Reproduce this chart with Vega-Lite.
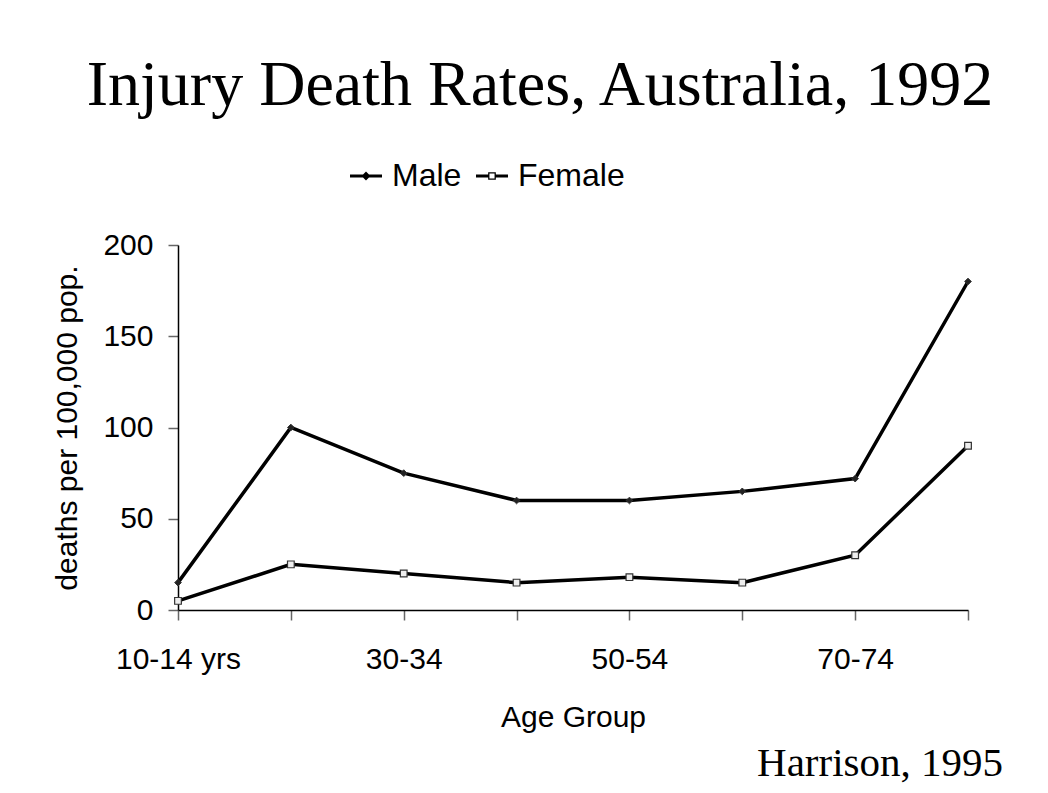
{
  "$schema": "https://vega.github.io/schema/vega-lite/v6.json",
  "width": 790,
  "height": 365,
  "autosize": {"type": "none"},
  "padding": {"left": 178, "top": 245, "right": 80, "bottom": 183},
  "background": "white",
  "title": {
    "text": "Injury Death Rates, Australia, 1992",
    "font": "Liberation Serif",
    "fontSize": 64,
    "fontWeight": "normal",
    "color": "black",
    "anchor": "middle",
    "baseline": "alphabetic",
    "dx": -33,
    "offset": -9
  },
  "config": {
    "view": {"stroke": null},
    "axis": {
      "labelFont": "Liberation Sans",
      "labelFontSize": 30,
      "labelColor": "black",
      "titleFont": "Liberation Sans",
      "titleFontSize": 30,
      "titleFontWeight": "normal",
      "titleColor": "black",
      "domainColor": "black",
      "domainWidth": 1.5,
      "tickColor": "#666666",
      "tickWidth": 1.5,
      "tickSize": 10,
      "grid": false
    }
  },
  "data": {
    "values": [
      {"age": "10-14 yrs", "sex": "Male", "rate": 15},
      {"age": "20-24", "sex": "Male", "rate": 100},
      {"age": "30-34", "sex": "Male", "rate": 75},
      {"age": "40-44", "sex": "Male", "rate": 60},
      {"age": "50-54", "sex": "Male", "rate": 60},
      {"age": "60-64", "sex": "Male", "rate": 65},
      {"age": "70-74", "sex": "Male", "rate": 72},
      {"age": "80-84", "sex": "Male", "rate": 180},
      {"age": "10-14 yrs", "sex": "Female", "rate": 5},
      {"age": "20-24", "sex": "Female", "rate": 25},
      {"age": "30-34", "sex": "Female", "rate": 20},
      {"age": "40-44", "sex": "Female", "rate": 15},
      {"age": "50-54", "sex": "Female", "rate": 18},
      {"age": "60-64", "sex": "Female", "rate": 15},
      {"age": "70-74", "sex": "Female", "rate": 30},
      {"age": "80-84", "sex": "Female", "rate": 90}
    ]
  },
  "layer": [
    {
      "mark": {"type": "line", "strokeWidth": 3.5},
      "encoding": {
        "x": {
          "field": "age",
          "type": "ordinal",
          "sort": null,
          "scale": {"type": "point", "padding": 0},
          "axis": {
            "title": "Age Group",
            "labelAngle": 0,
            "labelPadding": 24,
            "titlePadding": 28,
            "labelExpr": "indexof(['10-14 yrs','30-34','50-54','70-74'], datum.value) >= 0 ? datum.label : ''"
          }
        },
        "y": {
          "field": "rate",
          "type": "quantitative",
          "scale": {"domain": [0, 200], "nice": false},
          "axis": {
            "title": "deaths per 100,000 pop.",
            "values": [0, 50, 100, 150, 200],
            "labelPadding": 15,
            "titlePadding": 20
          }
        },
        "color": {
          "field": "sex",
          "type": "nominal",
          "scale": {"domain": ["Male", "Female"], "range": ["black", "black"]},
          "legend": {
            "orient": "none",
            "legendX": 172,
            "legendY": -85,
            "direction": "horizontal",
            "title": null,
            "padding": 0,
            "labelFont": "Liberation Sans",
            "labelFontSize": 32,
            "labelColor": "black",
            "labelOffset": 10,
            "columnPadding": 14,
            "symbolSize": 1024,
            "encode": {
              "symbols": {
                "update": {
                  "shape": {"signal": "datum.value === 'Male' ? 'M-1,-0.094H1V0.094H-1Z M-0.28,0L0,-0.28L0.28,0L0,0.28Z' : 'M-1,-0.094H-0.24V0.094H-1Z M0.24,-0.094H1V0.094H0.24Z M-0.24,-0.24H0.24V0.24H-0.24Z M-0.16,-0.16V0.16H0.16V-0.16Z'"},
                  "fill": {"value": "black"},
                  "stroke": {"value": "transparent"},
                  "strokeWidth": {"value": 0},
                  "opacity": {"value": 1}
                }
              }
            }
          }
        }
      }
    },
    {
      "transform": [{"filter": "datum.sex === 'Male'"}],
      "mark": {"type": "point", "shape": "diamond", "filled": true, "fill": "#222222", "stroke": "#333333", "strokeWidth": 1, "size": 45, "opacity": 1},
      "encoding": {
        "x": {"field": "age", "type": "ordinal", "sort": null},
        "y": {"field": "rate", "type": "quantitative"}
      }
    },
    {
      "transform": [{"filter": "datum.sex === 'Female'"}],
      "mark": {"type": "point", "shape": "square", "filled": true, "fill": "#eeeeee", "stroke": "#333333", "strokeWidth": 1.2, "size": 45, "opacity": 1},
      "encoding": {
        "x": {"field": "age", "type": "ordinal", "sort": null},
        "y": {"field": "rate", "type": "quantitative"}
      }
    },
    {
      "data": {"values": [{"note": "Harrison, 1995", "age": "80-84"}]},
      "mark": {
        "type": "text",
        "clip": false,
        "font": "Liberation Serif",
        "fontSize": 41,
        "color": "black",
        "align": "right",
        "baseline": "alphabetic",
        "dx": 35
      },
      "encoding": {
        "x": {"field": "age", "type": "ordinal", "sort": null},
        "y": {"datum": -91},
        "text": {"field": "note", "type": "nominal"}
      }
    }
  ]
}
